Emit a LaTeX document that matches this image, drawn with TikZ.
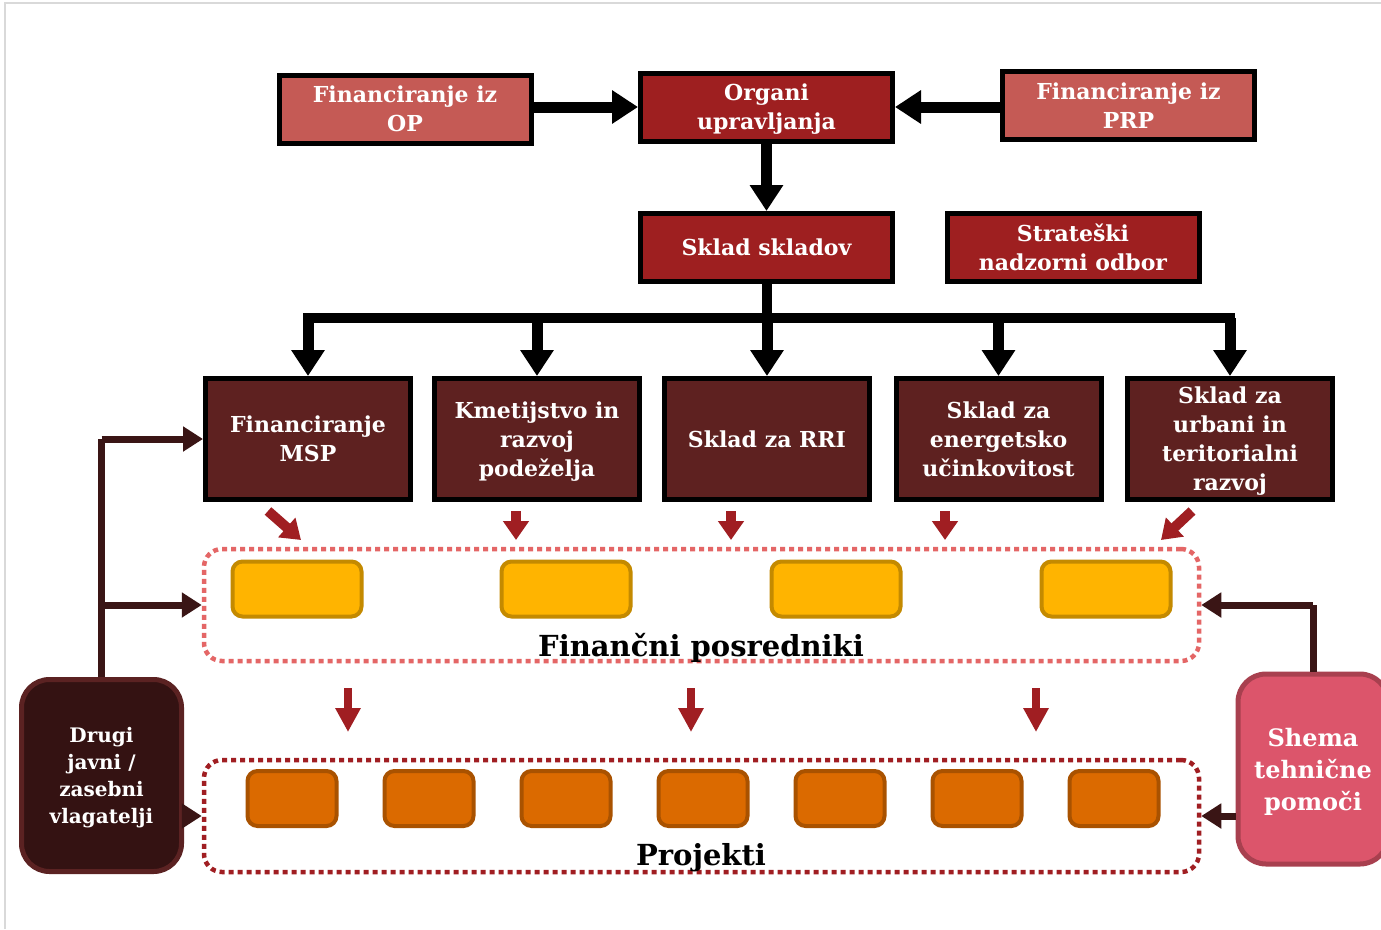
\documentclass[tikz,border=0pt]{standalone}
\usepackage{fontspec}
\setmainfont{DejaVu Serif}
\usetikzlibrary{arrows.meta,calc}
\definecolor{lightred}{HTML}{C55A55}
\definecolor{darkred}{HTML}{9E1F20}
\definecolor{maroon}{HTML}{5E2120}
\definecolor{yfill}{HTML}{FFB400}
\definecolor{ydraw}{HTML}{C48A00}
\definecolor{ofill}{HTML}{DB6A00}
\definecolor{odraw}{HTML}{A95200}
\definecolor{fpred}{HTML}{E46666}
\definecolor{prred}{HTML}{A01E22}
\definecolor{arrred}{HTML}{A01E22}
\definecolor{drfill}{HTML}{341212}
\definecolor{drdraw}{HTML}{5B2222}
\definecolor{shfill}{HTML}{DC556B}
\definecolor{shdraw}{HTML}{A8404F}
\definecolor{dkline}{HTML}{3A1515}
\definecolor{frame}{HTML}{D9D9D9}
\tikzset{
  box/.style={draw=black, line width=5pt, inner sep=0pt, align=center, text=white,
    text depth=0pt, font=\bfseries\fontsize{22}{29}\selectfont},
  topbox/.style={box, minimum width=252pt, minimum height=68pt},
  rowbox/.style={box, fill=maroon, minimum width=205pt, minimum height=121pt},
  blkarrow/.style={draw=black, line width=11pt, -{Triangle[length=26pt,width=32pt]}},
  redarrow/.style={draw=arrred, line width=10pt, -{Triangle[length=19pt,width=25pt]}},
  redarrowb/.style={draw=arrred, line width=8pt, -{Triangle[length=24pt,width=24pt]}},
  dkarrow/.style={draw=dkline, line width=7pt, -{Triangle[length=20pt,width=24pt]}},
  container/.style={line width=4.5pt, dash pattern=on 5pt off 4pt, rounded corners=18pt,
    minimum width=995pt, minimum height=112pt, inner sep=0pt},
  ybox/.style={draw=ydraw, fill=yfill, line width=4pt, rounded corners=10pt,
    minimum width=129pt, minimum height=55pt, inner sep=0pt},
  obox/.style={draw=odraw, fill=ofill, line width=4pt, rounded corners=10pt,
    minimum width=89pt, minimum height=55pt, inner sep=0pt},
  sidebox/.style={line width=5pt, rounded corners=28pt, inner sep=0pt, align=center,
    text=white, text depth=0pt},
  biglabel/.style={font=\bfseries\fontsize{29}{34}\selectfont, text=black, inner sep=0pt},
}
\begin{document}
\begin{tikzpicture}[x=1pt,y=-1pt]
\useasboundingbox (0,0) rectangle (1381,929);
\fill[white] (0,0) rectangle (1381,929);
\draw[frame, line width=1.5pt] (5,929) -- (5,3) -- (1381,3);

% top boxes
\node[topbox, fill=lightred] (op) at (405,109) {Financiranje iz\\OP};
\node[topbox, fill=darkred] (org) at (766.5,107) {Organi\\upravljanja};
\node[topbox, fill=lightred] (prp) at (1128.5,105.5) {Financiranje iz\\PRP};
\node[topbox, fill=darkred] (skl) at (766.5,247.5) {Sklad skladov};
\node[topbox, fill=darkred] (snd) at (1073,247.5) {Strateški\\nadzorni odbor};

% row boxes
\node[rowbox] (msp) at (308,439) {Financiranje\\MSP};
\node[rowbox] (kme) at (537,439) {Kmetijstvo in\\razvoj\\podeželja};
\node[rowbox] (rri) at (767,439) {Sklad za RRI};
\node[rowbox] (ene) at (998.5,439) {Sklad za\\energetsko\\učinkovitost};
\node[rowbox] (urb) at (1230,439) {Sklad za\\urbani in\\teritorialni\\razvoj};

% black arrows
\draw[blkarrow] (op.east |- org) -- (org.west);
\draw[blkarrow] (prp.west |- org) -- (org.east);
\draw[blkarrow] (org.south) -- (skl.north);
\coordinate (bus) at (766.5,318);
\draw[black, line width=10pt] (skl.south) -- (bus);
\draw[black, line width=10pt, line cap=rect] (msp.north |- bus) -- (urb.north |- bus);
\foreach \n in {msp,kme,rri,ene,urb}{
  \draw[blkarrow] (\n.north |- bus) -- (\n.north);
}

% containers
\node[container, draw=fpred] (fp) at (701.5,605) {};
\node[container, draw=prred] (pr) at (701.5,816) {};
\node[biglabel] (fplab) at (701,648) {Finančni posredniki};
\node[biglabel] (prlab) at (701,858) {Projekti};

% yellow boxes
\foreach \x [count=\i] in {297,566,836,1106}{
  \node[ybox] (y\i) at (\x,589) {};
}
% orange boxes
\foreach \x [count=\i] in {292,429,566,703,840,977,1114}{
  \node[obox] (o\i) at (\x,798.5) {};
}

% red arrows from row boxes to FP
\draw[redarrow] ($(msp.south)+(-40,9)$) -- ($(msp.south)+(-7,38)$);
\draw[redarrow] ($(kme.south)+(-21,9)$) -- ($(kme.south)+(-21,38)$);
\draw[redarrow] ($(rri.south)+(-36,9)$) -- ($(rri.south)+(-36,38)$);
\draw[redarrow] ($(ene.south)+(-53.5,9)$) -- ($(ene.south)+(-53.5,38)$);
\draw[redarrow] ($(urb.south)+(-38,9)$) -- ($(urb.south)+(-69,38)$);

% red arrows FP -> projekti
\foreach \x in {348,691,1036}{
  \draw[redarrowb] (\x,688) -- (\x,732);
}

% side boxes
\node[sidebox, draw=drdraw, fill=drfill, minimum width=160pt, minimum height=192pt,
  font=\bfseries\fontsize{20}{27}\selectfont] (drugi) at (101.5,775.5)
  {Drugi\\javni /\\zasebni\\vlagatelji};
\node[sidebox, draw=shdraw, fill=shfill, minimum width=150pt, minimum height=190pt,
  font=\bfseries\fontsize{24}{32}\selectfont] (shema) at (1313,769)
  {Shema\\tehnične\\pomoči};

% side connectors
\draw[dkline, line width=7pt] (drugi.north) -- (drugi.north |- msp.west);
\draw[dkarrow] (drugi.north |- msp.west) -- (msp.west);
\draw[dkarrow] (drugi.north |- fp.west) -- (fp.west);
\draw[dkarrow] (drugi.east |- pr.west) -- (pr.west);
\draw[dkline, line width=7pt] (shema.north) -- (shema.north |- fp.east);
\draw[dkarrow] (shema.north |- fp.east) -- (fp.east);
\draw[dkarrow] (shema.west |- pr.east) -- (pr.east);
\end{tikzpicture}
\end{document}
